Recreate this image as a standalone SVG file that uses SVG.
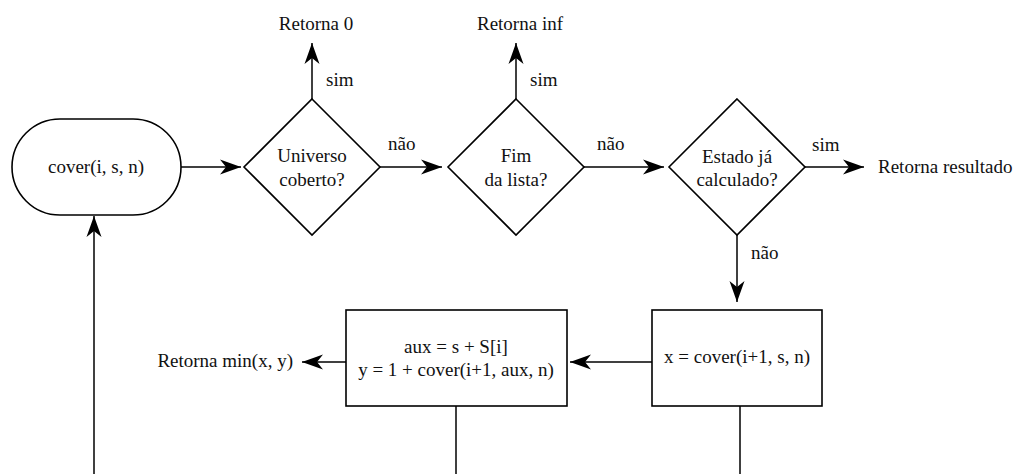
<svg xmlns="http://www.w3.org/2000/svg" width="1026" height="474" viewBox="0 0 1026 474">
<style>
.s{fill:#fff;stroke:#000;stroke-width:1.6}
.c{fill:none;stroke:#000;stroke-width:1.5}
text{font-size:19px;fill:#111}
.m{text-anchor:middle}
.e{text-anchor:end}
</style>
<defs>
<marker id="a" markerUnits="userSpaceOnUse" viewBox="-22 -9 24 18" markerWidth="24" markerHeight="18" refX="0" refY="0" orient="auto">
<path d="M0,0 L-21,-7.5 L-15,0 L-21,7.5 Z" fill="#000"/>
</marker>
</defs>
<rect width="1026" height="474" fill="#fff"/>
<g font-family="'Liberation Serif', 'Times New Roman', 'DejaVu Serif', serif">
<g id="connectors">
<line class="c" x1="181" y1="167" x2="241" y2="167" marker-end="url(#a)"/>
<line class="c" x1="312" y1="99" x2="312" y2="43" marker-end="url(#a)"/>
<text x="326" y="86">sim</text>
<line class="c" x1="380" y1="167" x2="442" y2="167" marker-end="url(#a)"/>
<text x="388" y="150">não</text>
<line class="c" x1="516" y1="99" x2="516" y2="43" marker-end="url(#a)"/>
<text x="530" y="86">sim</text>
<line class="c" x1="584" y1="167" x2="664" y2="167" marker-end="url(#a)"/>
<text x="597" y="150">não</text>
<line class="c" x1="805" y1="167" x2="864" y2="167" marker-end="url(#a)"/>
<text x="812" y="151">sim</text>
<line class="c" x1="737" y1="235" x2="737" y2="302" marker-end="url(#a)"/>
<text x="751" y="259">não</text>
<line class="c" x1="652" y1="362" x2="570" y2="362" marker-end="url(#a)"/>
<line class="c" x1="346" y1="362" x2="302" y2="362" marker-end="url(#a)"/>
<line class="c" x1="94" y1="474" x2="94" y2="216" marker-end="url(#a)"/>
<line class="c" x1="456" y1="406" x2="456" y2="474"/>
<line class="c" x1="740" y1="406" x2="740" y2="474"/>
</g>
<g id="start">
<rect class="s" x="12" y="119" width="169" height="96" rx="48" ry="48"/>
<text class="m" x="96" y="173">cover(i, s, n)</text>
</g>
<g id="universo">
<polygon class="s" points="312,99 380,167 312,235 244,167"/>
<text class="m" x="312" y="162">Universo</text>
<text class="m" x="312" y="186">coberto?</text>
</g>
<g id="ret0"><text class="m" x="316" y="30">Retorna 0</text></g>
<g id="fim">
<polygon class="s" points="516,99 584,167 516,235 448,167"/>
<text class="m" x="516" y="162">Fim</text>
<text class="m" x="516" y="186">da lista?</text>
</g>
<g id="retinf"><text class="m" x="520" y="30">Retorna inf</text></g>
<g id="estado">
<polygon class="s" points="737,99 805,167 737,235 669,167"/>
<text class="m" x="737" y="163">Estado já</text>
<text class="m" x="737" y="186">calculado?</text>
</g>
<g id="retres"><text x="878" y="173">Retorna resultado</text></g>
<g id="xbox">
<rect class="s" x="652" y="310" width="170" height="96"/>
<text class="m" x="737" y="363">x = cover(i+1, s, n)</text>
</g>
<g id="ybox">
<rect class="s" x="346" y="310" width="221" height="96"/>
<text class="m" x="456" y="353">aux = s + S[i]</text>
<text class="m" x="456" y="376">y = 1 + cover(i+1, aux, n)</text>
</g>
<g id="retmin"><text class="e" x="293" y="367">Retorna min(x, y)</text></g>
</g>
</svg>
